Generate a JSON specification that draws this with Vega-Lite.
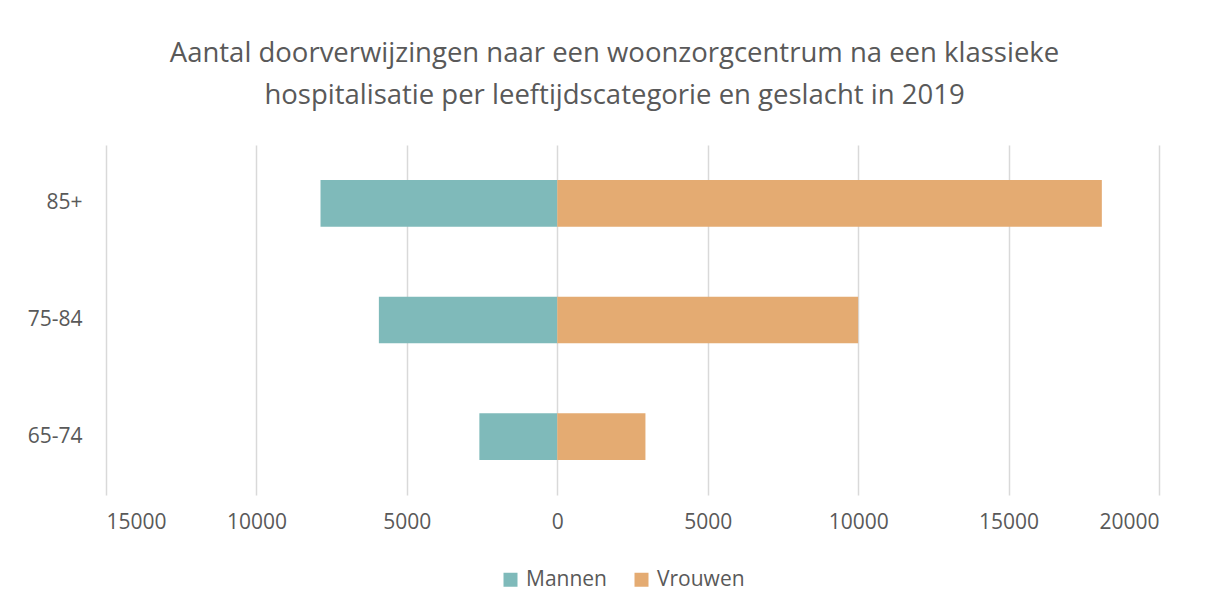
{
  "$schema": "https://vega.github.io/schema/vega-lite/v6.json",
  "autosize": {"type": "none"},
  "width": 1053,
  "height": 350,
  "padding": {"left": 106, "top": 145, "right": 49, "bottom": 115},
  "background": "white",
  "title": {
    "text": ["Aantal doorverwijzingen naar een woonzorgcentrum na een klassieke", "hospitalisatie per leeftijdscategorie en geslacht in 2019"],
    "font": "Open Sans",
    "fontSize": 27.5,
    "fontWeight": "normal",
    "color": "#595959",
    "lineHeight": 42,
    "anchor": "middle",
    "dx": -18,
    "offset": 36
  },
  "data": {
    "values": [
      {"leeftijd": "85+", "geslacht": "Mannen", "aantal": -7870},
      {"leeftijd": "75-84", "geslacht": "Mannen", "aantal": -5930},
      {"leeftijd": "65-74", "geslacht": "Mannen", "aantal": -2590},
      {"leeftijd": "85+", "geslacht": "Vrouwen", "aantal": 18100},
      {"leeftijd": "75-84", "geslacht": "Vrouwen", "aantal": 10000},
      {"leeftijd": "65-74", "geslacht": "Vrouwen", "aantal": 2930}
    ]
  },
  "mark": {"type": "bar"},
  "encoding": {
    "y": {
      "field": "leeftijd",
      "type": "nominal",
      "sort": ["85+", "75-84", "65-74"],
      "scale": {"paddingInner": 0.6, "paddingOuter": 0.3},
      "axis": {
        "title": null,
        "domain": false,
        "ticks": false,
        "grid": false,
        "labelFont": "Open Sans",
        "labelFontSize": 21,
        "labelColor": "#595959",
        "labelPadding": 24
      }
    },
    "x": {
      "field": "aantal",
      "type": "quantitative",
      "scale": {"domain": [-15000, 20000], "nice": false},
      "axis": {
        "title": null,
        "values": [-15000, -10000, -5000, 0, 5000, 10000, 15000, 20000],
        "labelExpr": "format(abs(datum.value), 'd')",
        "domain": false,
        "ticks": false,
        "grid": true,
        "gridColor": "#D9D9D9",
        "gridWidth": 1.5,
        "labelFont": "Open Sans",
        "labelFontSize": 21,
        "labelColor": "#595959",
        "labelPadding": 16
      }
    },
    "color": {
      "field": "geslacht",
      "type": "nominal",
      "scale": {"domain": ["Mannen", "Vrouwen"], "range": ["#7FBABA", "#E4AB72"]},
      "legend": {
        "title": null,
        "orient": "none",
        "direction": "horizontal",
        "legendX": 394,
        "legendY": 424,
        "symbolType": "square",
        "symbolSize": 196,
        "symbolStrokeWidth": 0,
        "labelFont": "Open Sans",
        "labelFontSize": 21,
        "labelColor": "#595959",
        "labelOffset": 5,
        "columnPadding": 24
      }
    }
  },
  "config": {
    "view": {"stroke": null}
  }
}
